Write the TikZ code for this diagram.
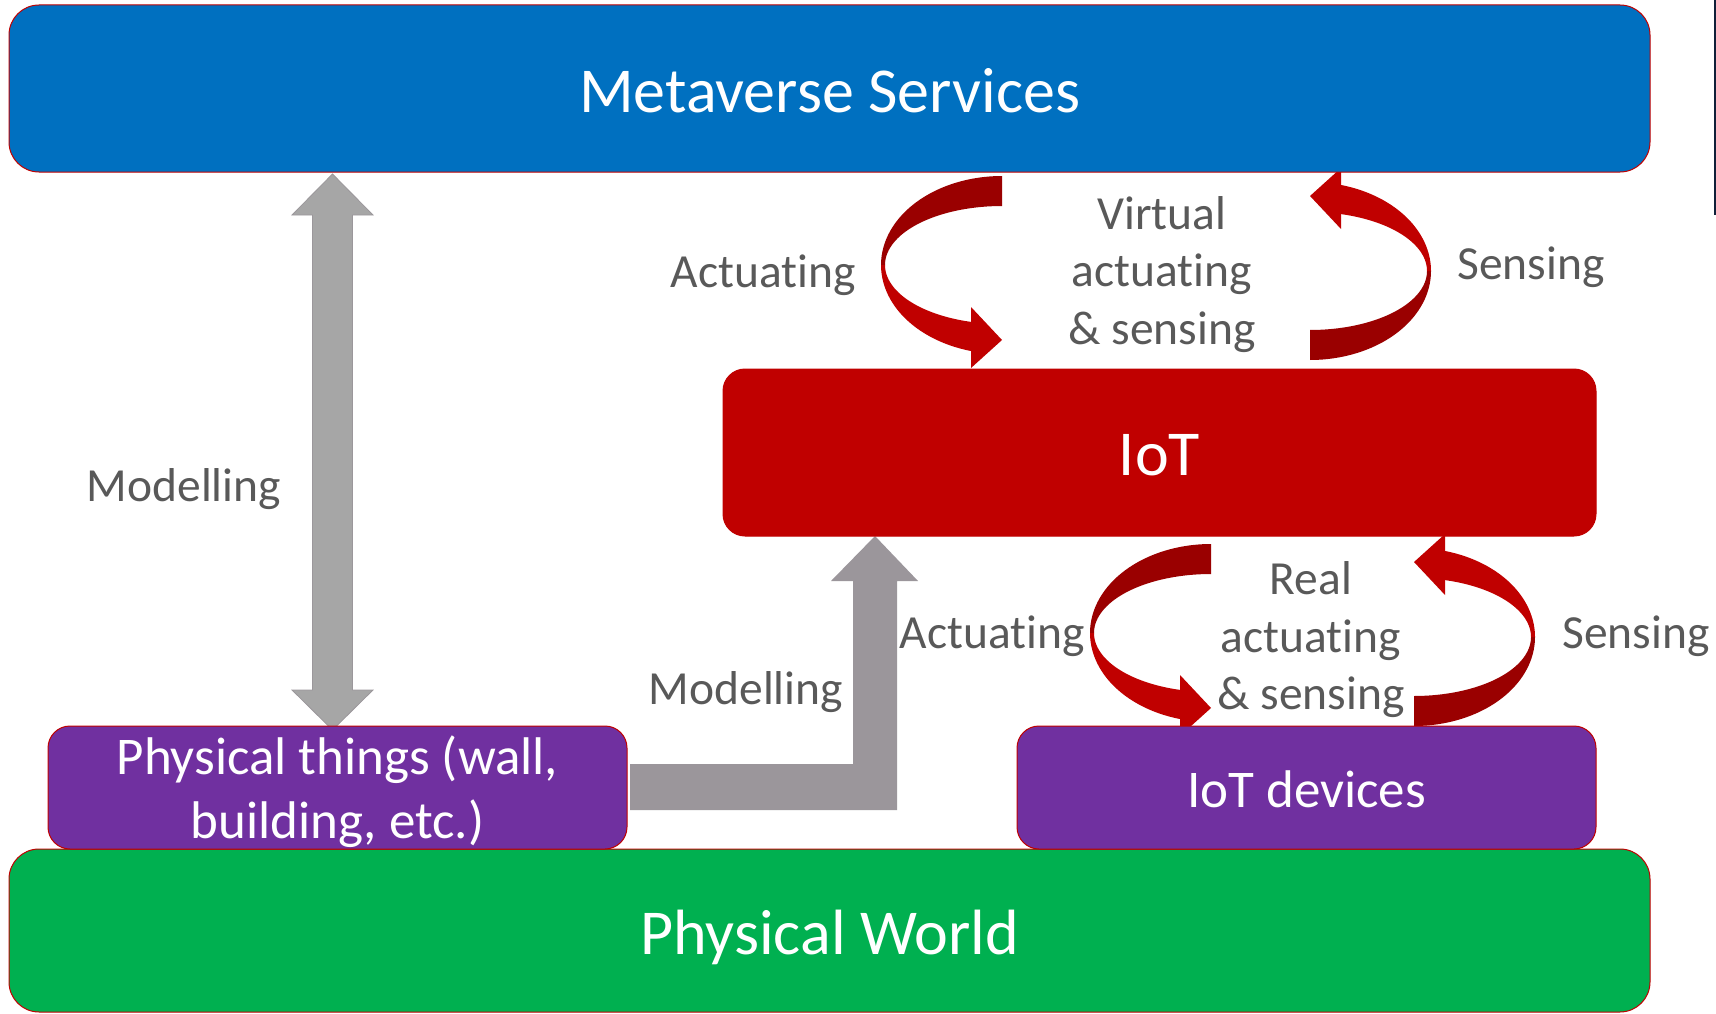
\documentclass[tikz,border=0pt]{standalone}
\usepackage{fontspec}
\setmainfont{Carlito}[Ligatures={NoCommon}]
\definecolor{msblue}{HTML}{0070C0}
\definecolor{iotred}{HTML}{C00000}
\definecolor{darkrib}{HTML}{9A0000}
\definecolor{purp}{HTML}{7030A0}
\definecolor{pgreen}{HTML}{00B050}
\definecolor{lblgray}{HTML}{595959}
\definecolor{arrgray}{HTML}{A6A6A6}
\definecolor{arrgrayline}{HTML}{9B979B}
\definecolor{larrgray}{HTML}{9B969B}
\definecolor{edgenavy}{HTML}{10203A}
\tikzset{
  bigbox/.style={draw=iotred, line width=1pt, rounded corners=30pt, text=white,
    font=\fontsize{64}{76}\selectfont, inner sep=0pt},
  smallbox/.style={draw=iotred, line width=1pt, rounded corners=22pt, fill=purp, text=white,
    font=\fontsize{53}{64}\selectfont, align=center, inner sep=0pt,
    minimum width=579pt, minimum height=123pt},
  lbl/.style={text=lblgray, font=\fontsize{47.5}{57.5}\selectfont, align=center, inner sep=0pt},
  ribbon/.pic={
    \fill[darkrib] plot[domain=90:180,samples=45,variable=\t] ({121*cos(\t)},{-89*sin(\t)})
      -- plot[domain=180:90,samples=45,variable=\t] ({117*cos(\t)},{-59*sin(\t)}) -- cycle;
    \fill[iotred] plot[domain=180:257,samples=40,variable=\t] ({121*cos(\t)},{-89*sin(\t)})
      -- plot[domain=257:180,samples=40,variable=\t] ({117*cos(\t)},{-59*sin(\t)}) -- cycle;
    \fill[iotred] (-31,42) -- (0,75) -- (-31,103) -- cycle;
  }
}
\begin{document}
\begin{tikzpicture}[x=1pt,y=-1pt]
\useasboundingbox (0,0) rectangle (1716,1014);

% red ribbon arrows
\pic at (1002,265) {ribbon};
\pic[rotate=180] at (1310,271) {ribbon};
\pic at (1211,633) {ribbon};
\pic[rotate=180] at (1414,637) {ribbon};

% grey block arrows
\fill[arrgray, draw=arrgrayline, line width=0.8pt]
  (332.5,174) -- (373,215) -- (352.5,215) -- (352.5,690) -- (373,690) -- (332.5,730)
  -- (292,690) -- (312.5,690) -- (312.5,215) -- (292,215) -- cycle;
\fill[larrgray]
  (875,536) -- (918,581) -- (897,581) -- (897,810) -- (630,810) -- (630,764)
  -- (853,764) -- (853,581) -- (831,581) -- cycle;

% boxes
\node[bigbox, fill=msblue, minimum width=1641pt, minimum height=167pt] (meta) at (829.5,88.5) {};
\node[bigbox, fill=pgreen, minimum width=1641pt, minimum height=163pt] (world) at (829.5,930.5) {};
\node[bigbox, fill=iotred, rounded corners=22pt, minimum width=873pt, minimum height=167pt] (iot) at (1159.5,452.5) {};
\node[bigbox, draw=none] (metat) at (829.5,90.7) {Metaverse Services};
\node[bigbox, draw=none] (worldt) at (829.5,937.2) {Physical World};
\node[bigbox, draw=none] (iott) at (1159.5,454.7) {IoT};
\node[smallbox] (things) at (337.5,787.5) {};
\node[smallbox] (devices) at (1306.5,787.5) {};
\node[smallbox, draw=none, minimum width=0pt, minimum height=0pt] (thingst) at (337.5,792) {Physical things (wall,\\building, etc.)};
\node[smallbox, draw=none, minimum width=0pt, minimum height=0pt] (devicest) at (1306.5,789.7) {IoT devices};

% labels
\node[lbl] (mod1) at (184,489.3) {Modelling};
\node[lbl] (mod2) at (746,692.3) {Modelling};
\node[lbl] (act1) at (763,275.4) {Actuating};
\node[lbl] (act2) at (992,636.3) {Actuating};
\node[lbl] (sen1) at (1531,267.3) {Sensing};
\node[lbl] (sen2) at (1636,636.3) {Sensing};
\node[lbl] (virt) at (1162,274.5) {Virtual\\actuating\\\& sensing};
\node[lbl] (real) at (1311,640) {Real\\actuating\\\& sensing};

% thin edge line at right border
\coordinate (e1) at (1715,0);
\coordinate (e2) at (1715,215);
\draw[edgenavy, line width=1.2pt] (e1) -- (e2);
\end{tikzpicture}
\end{document}
